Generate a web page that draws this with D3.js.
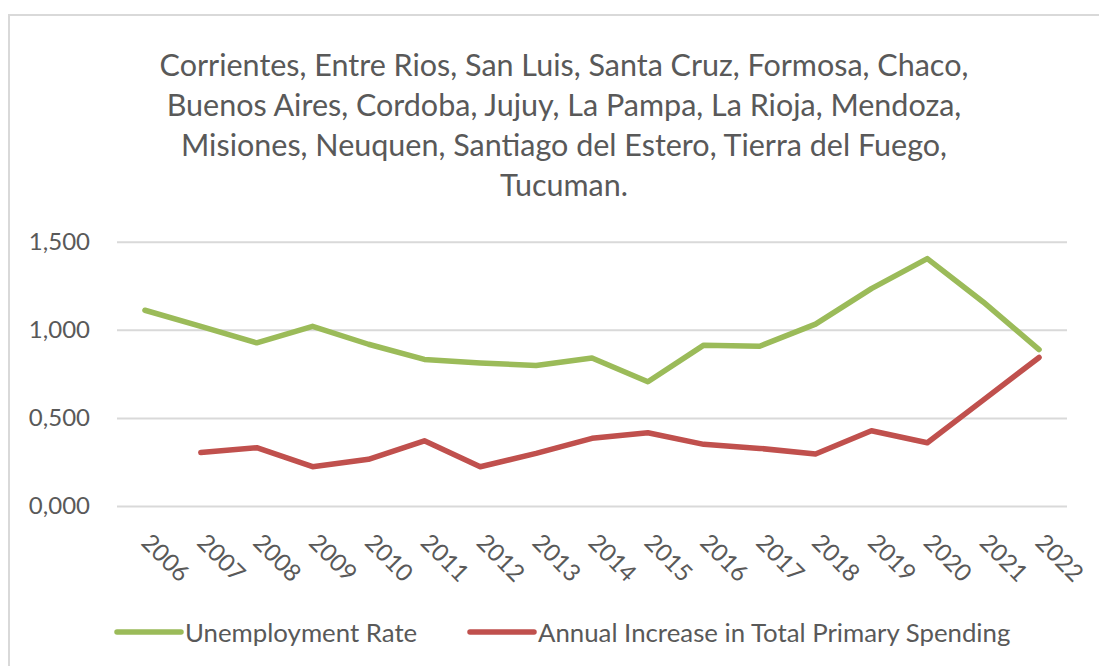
<!DOCTYPE html>
<html>
<head>
<meta charset="utf-8">
<script src="https://cdn.jsdelivr.net/npm/d3@7/dist/d3.min.js"></script>
<style>
  html, body { margin: 0; padding: 0; background: #fff; }
  svg { display: block; font-family: Lato, "Open Sans", sans-serif; }
</style>
</head>
<body>
<svg id="chart" width="1099" height="666"></svg>
<script>
// Years on the category axis
const years = ["2006","2007","2008","2009","2010","2011","2012","2013","2014",
               "2015","2016","2017","2018","2019","2020","2021","2022"];

// Series values (null = no data for that year)
const unemploymentRate = [1.111, 1.020, 0.926, 1.020, 0.918, 0.832, 0.812, 0.797, 0.840,
                          0.705, 0.913, 0.907, 1.032, 1.234, 1.404, 1.158, 0.888];
const primarySpendingIncrease = [null, 0.304, 0.331, 0.223, 0.265, 0.370, 0.223, 0.299, 0.384,
                                 0.416, 0.350, 0.327, 0.295, 0.427, 0.359, 0.601, 0.843];

// Value-axis ticks and their printed labels
const yTicks = [0, 0.5, 1.0, 1.5];
const yTickLabels = ["0,000", "0,500", "1,000", "1,500"];

const titleLines = [
  "Corrientes, Entre Rios, San Luis, Santa Cruz, Formosa, Chaco,",
  "Buenos Aires, Cordoba, Jujuy, La Pampa, La Rioja, Mendoza,",
  "Misiones, Neuquen, Santiago del Estero, Tierra del Fuego,",
  "Tucuman."
];

const series = [
  { name: "Unemployment Rate", values: unemploymentRate, color: "#9BBB59" },
  { name: "Annual Increase in Total Primary Spending", values: primarySpendingIncrease, color: "#C0504D" }
];

const svg = d3.select("#chart");
const textColor = "#595959";
const gridColor = "#d9d9d9";

// Chart frame
svg.append("rect")
  .attr("x", 9).attr("y", 15)
  .attr("width", 1110).attr("height", 700)
  .attr("fill", "#fff")
  .attr("stroke", gridColor)
  .attr("stroke-width", 2);

const plot = { left: 117, right: 1067, top: 241.7, bottom: 506 };

const x = d3.scaleBand().domain(years).range([plot.left, plot.right]).padding(0);
const y = d3.scaleLinear().domain([0, 1.5]).range([plot.bottom, plot.top]);

// Title
svg.append("g")
  .selectAll("text")
  .data(titleLines)
  .join("text")
  .attr("x", 564)
  .attr("y", (d, i) => 76 + i * 40)
  .attr("text-anchor", "middle")
  .attr("fill", textColor)
  .attr("font-size", 30.5)
  .text(d => d);

// Horizontal gridlines
const yAxis = d3.axisLeft(y)
  .tickValues(yTicks)
  .tickSize(-(plot.right - plot.left))
  .tickPadding(27)
  .tickFormat((d, i) => yTickLabels[i]);

const gy = svg.append("g")
  .attr("transform", `translate(${plot.left},0)`)
  .call(yAxis);
gy.select(".domain").remove();
gy.selectAll(".tick line").attr("stroke", gridColor).attr("stroke-width", 2);
gy.selectAll(".tick text")
  .attr("fill", textColor)
  .attr("font-size", 24)
  .attr("font-family", "Lato, 'Open Sans', sans-serif");

// Category labels, rotated
const xAxis = d3.axisBottom(x).tickSize(0).tickPadding(0);
const gx = svg.append("g")
  .attr("transform", `translate(0,${plot.bottom})`)
  .call(xAxis);
gx.select(".domain").remove();
gx.selectAll(".tick text")
  .attr("fill", textColor)
  .attr("font-size", 24)
  .attr("font-family", "Lato, 'Open Sans', sans-serif")
  .attr("text-anchor", "start")
  .attr("dy", null)
  .attr("y", 0)
  .attr("transform", "translate(-5,38) rotate(45)");

// Lines
const line = d3.line()
  .defined(d => d != null)
  .x((d, i) => x(years[i]) + x.bandwidth() / 2)
  .y(d => y(d));

svg.append("g")
  .selectAll("path")
  .data(series)
  .join("path")
  .attr("fill", "none")
  .attr("stroke", d => d.color)
  .attr("stroke-width", 5.5)
  .attr("stroke-linejoin", "round")
  .attr("stroke-linecap", "round")
  .attr("d", d => line(d.values));

// Legend
const legendPos = [117, 470];
const legend = svg.append("g")
  .selectAll("g")
  .data(series)
  .join("g")
  .attr("transform", (d, i) => `translate(${legendPos[i]},632)`);
legend.append("line")
  .attr("x1", 0).attr("x2", 64)
  .attr("stroke", d => d.color)
  .attr("stroke-width", 5.5)
  .attr("stroke-linecap", "round");
legend.append("text")
  .attr("x", 68).attr("y", 10)
  .attr("fill", textColor)
  .attr("font-size", 25.8)
  .text(d => d.name);
</script>
</body>
</html>
